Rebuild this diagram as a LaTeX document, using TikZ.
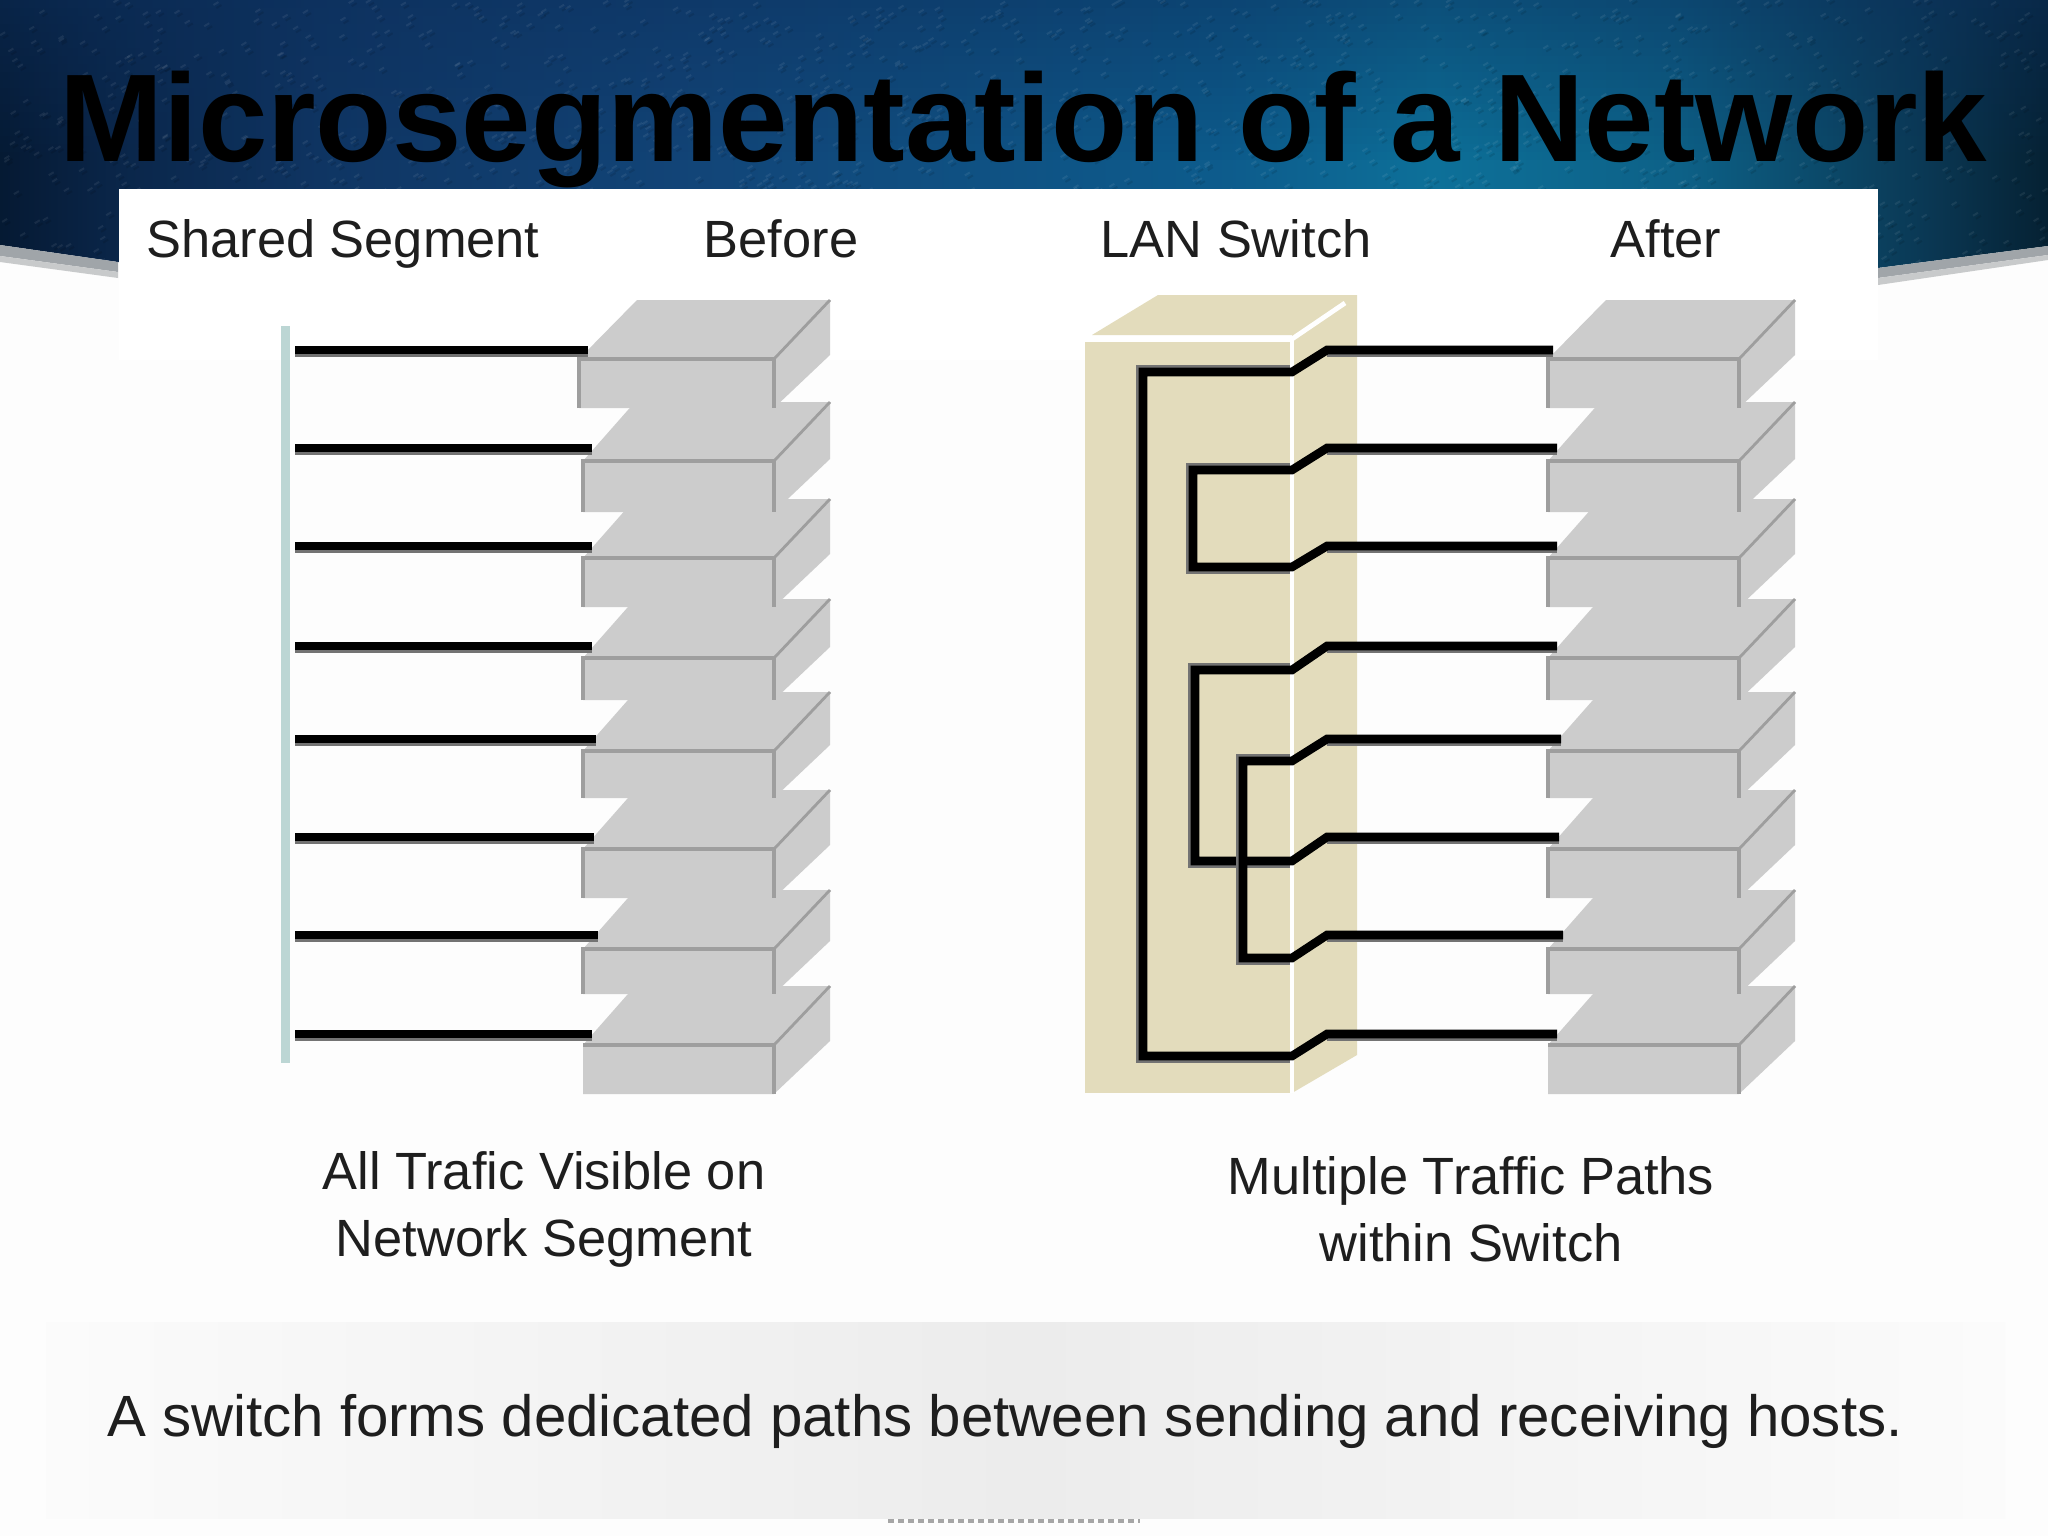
\documentclass[tikz,border=0pt]{standalone}
\usepackage{fontspec}
\setmainfont{Liberation Sans}
\definecolor{pagebg}{HTML}{FDFDFD}
\definecolor{navy}{HTML}{0C2F5C}
\definecolor{hostfill}{HTML}{CCCCCC}
\definecolor{hostedge}{HTML}{9E9E9E}
\definecolor{switchfill}{HTML}{E3DCBC}
\definecolor{barcol}{HTML}{BCD6D4}
\definecolor{txt}{HTML}{1E1E1E}
\definecolor{rimdark}{HTML}{A0A5A9}
\definecolor{rimlight}{HTML}{C8CACB}
\pgfdeclarehorizontalshading{hdr}{100bp}{
 rgb(0bp)=(0.02,0.10,0.20);
 rgb(25bp)=(0.02,0.10,0.20);
 rgb(28bp)=(0.04,0.15,0.29);
 rgb(33bp)=(0.06,0.21,0.39);
 rgb(42bp)=(0.07,0.27,0.47);
 rgb(55bp)=(0.05,0.36,0.55);
 rgb(60bp)=(0.05,0.44,0.60);
 rgb(66bp)=(0.05,0.38,0.53);
 rgb(72bp)=(0.04,0.22,0.33);
 rgb(75bp)=(0.02,0.13,0.20);
 rgb(100bp)=(0.02,0.13,0.20)}
\pgfdeclarehorizontalshading{bandshade}{100bp}{
 rgb(0bp)=(0.985,0.985,0.985);
 rgb(25bp)=(0.985,0.985,0.985);
 rgb(50bp)=(0.925,0.925,0.925);
 rgb(75bp)=(0.985,0.985,0.985);
 rgb(100bp)=(0.985,0.985,0.985)}
\tikzset{
 host/.style={fill=hostfill,draw=none},
 hostline/.style={draw=hostedge,line width=2.2pt,line cap=butt},
 wire/.style={draw=black,line width=4.3pt,line join=miter},
 wireshade/.style={draw=black!55,line width=4.3pt},
 lab/.style={anchor=base,text=txt,inner sep=0pt,font=\fontsize{26.2}{30}\selectfont},
}
\begin{document}
\begin{tikzpicture}[x=0.5pt,y=-0.5pt]
\useasboundingbox (0,0) rectangle (2048,1536);
\fill[pagebg] (0,0) rectangle (2048,1536);
% header
\begin{scope}
\clip (0,0) -- (2048,0) -- (2048,246) -- (1878,268) -- (118,262) -- (0,245) -- cycle;
\shade[shading=hdr] (0,0) rectangle (2048,290);
\foreach \i in {0,...,19}
  \fill[navy,opacity={0.5*(1-\i/20)}] (0,{\i*8}) rectangle (2048,{(\i+1)*8});
\pgfmathsetseed{7}
\foreach \i in {1,...,1400}{
  \pgfmathsetmacro{\px}{rnd*2048}
  \pgfmathsetmacro{\py}{rnd*270}
  \draw[white,opacity=0.07,line width=1pt] (\px,\py) -- ({\px+5},{\py-3});
  \draw[black,opacity=0.10,line width=1pt] ({\px+3},{\py+3}) -- ({\px+8},{\py});
}
\end{scope}
% shadow under the curved edge
\fill[rimdark] (0,245) -- (118,262) -- (118,272) -- (0,256) -- cycle;
\fill[rimlight] (0,256) -- (118,272) -- (118,278) -- (0,262) -- cycle;
\fill[rimdark] (1878,268) -- (2048,246) -- (2048,255) -- (1878,278) -- cycle;
\fill[rimlight] (1878,278) -- (2048,255) -- (2048,260) -- (1878,285) -- cycle;
% panel
\fill[white] (119,189) rectangle (1878,360);
% title
\node[anchor=base west,inner sep=0pt,text=black,font=\fontsize{62.4}{70}\bfseries\selectfont] (title) at (59,161) {Microsegmentation of a Network};
% column heads
\node[lab] (shared) at (343,257) {Shared Segment};
\node[lab] (before) at (781,257) {Before};
\node[lab] (lan) at (1236,257) {LAN Switch};
\node[lab] (after) at (1666,257) {After};
% bar
\fill[barcol] (281,326) rectangle (290,1063);
% host stacks
\foreach \dx/\Lone in {0/579,965/583}{
 \begin{scope}[shift={(\dx,0)}]
 \foreach \ft/\fb/\L/\d in {359/408/\Lone/58,461/512/583/52,558/607/583/52,658/700/583/52,751/798/583/52,849/898/583/52,949/994/583/52,1045/1094/583/52}{
   \fill[host] (\L,\ft) -- ({\L+\d},{\ft-59}) -- (830,{\ft-59}) -- (830,{\fb-53}) -- (774,\fb) -- (\L,\fb) -- cycle;
 }
 \foreach \ft/\fb/\L in {359/408/\Lone,461/512/583,558/607/583,658/700/583,751/798/583,849/898/583,949/994/583,1045/1094/583}{
   \ifnum\ft=1045\relax
     \draw[hostline] (774,\ft) -- (774,\fb);
     \draw[hostline] (\L,\ft) -- (774,\ft);
   \else
     \draw[hostline] (\L,\fb) -- (\L,\ft) -- (774,\ft) -- (774,\fb);
   \fi
   \draw[hostline,line width=1.4pt] (774,\ft) -- (830,{\ft-59});
 }
 \end{scope}
}
% switch box
\fill[switchfill] (1085,342) rectangle (1292,1093);
\fill[switchfill] (1092,335) -- (1158,295) -- (1357,295) -- (1357,1055) -- (1292,1093) -- (1292,335) -- cycle;
\draw[white,line width=3pt] (1085,339) -- (1292,339);
\draw[white,line width=2pt] (1292,339) -- (1292,1093);
\draw[white,line width=2.4pt] (1292,339) -- (1345,303);
% named points
\foreach \i/\y/\xe/\yi in {1/350/588/372,2/448/592/470,3/546/592/567,4/646/592/670,5/739/596/761,6/837/594/861,7/935/598/958,8/1034/592/1056}{
  \coordinate (seg\i) at (295,\y);
  \coordinate (ha\i) at (\xe,\y);
  \coordinate (hb\i) at ({\xe+965},\y);
  \coordinate (jog\i) at (1327,\y);
  \coordinate (port\i) at (1292,\yi);
}
% wires, before
\foreach \i in {1,...,8}{
  \draw[wireshade] ([yshift=-1.3pt]seg\i) -- ([yshift=-1.3pt]ha\i);
  \draw[wire] (seg\i) -- (ha\i);
}
% wires, after: shadow then black
\foreach \p/\q/\vx in {1/8/1143,2/3/1193,4/6/1195,5/7/1243}{
  \coordinate (up\p) at (\vx,0);
  \draw[wireshade] ([shift={(-1.2pt,1.2pt)}]port\p) -- ([shift={(-1.2pt,1.2pt)}]port\p -| up\p) -- ([shift={(-1.2pt,-1.2pt)}]port\q -| up\p) -- ([shift={(-1.2pt,-1.2pt)}]port\q);
  \draw[wireshade] ([yshift=-1.3pt]jog\p) -- ([yshift=-1.3pt]hb\p);
  \draw[wireshade] ([yshift=-1.3pt]jog\q) -- ([yshift=-1.3pt]hb\q);
  \draw[wire] (hb\p) -- (jog\p) -- (port\p) -- (port\p -| up\p) -- (port\q -| up\p) -- (port\q) -- (jog\q) -- (hb\q);
}
% captions
\node[lab] (cap1) at (544,1189) {All Trafic Visible on};
\node[lab] (cap2) at (544,1256) {Network Segment};
\node[lab] (cap3) at (1471,1194) {Multiple Traffic Paths};
\node[lab] (cap4) at (1471,1261) {within Switch};
% bottom band
\shade[shading=bandshade] (46,1322) rectangle (2005,1518);
\node[lab,anchor=base,font=\fontsize{29.1}{32}\selectfont] (foot) at (1005,1436) {A switch forms dedicated paths between sending and receiving hosts.};
\draw[gray!70,line width=1.6pt,dash pattern=on 3pt off 2pt] (888,1521) -- (1140,1521);
\end{tikzpicture}
\end{document}
